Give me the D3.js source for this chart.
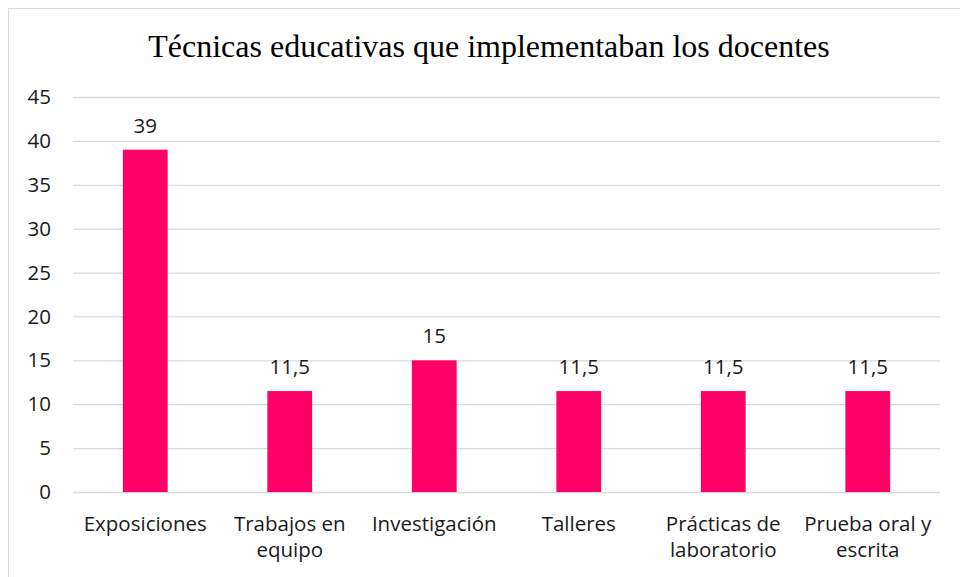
<!DOCTYPE html>
<html>
<head>
<meta charset="utf-8">
<style>
  body { margin: 0; background: #fff; }
  svg { display: block; }
  .title { font-family: "Liberation Serif", "Times New Roman", serif; font-size: 32px; fill: #000; }
  .tick text, .cat, .val { font-family: "Open Sans", "Noto Sans", sans-serif; font-size: 20.5px; fill: #1a1a1a; }
</style>
</head>
<body>
<script src="https://d3js.org/d3.v7.min.js"></script>
<script>

// data
var categories = ["Exposiciones", "Trabajos en equipo", "Investigación", "Talleres", "Prácticas de laboratorio", "Prueba oral y escrita"];
var catLines = [["Exposiciones"], ["Trabajos en", "equipo"], ["Investigación"], ["Talleres"], ["Prácticas de", "laboratorio"], ["Prueba oral y", "escrita"]];
var values = [39, 11.5, 15, 11.5, 11.5, 11.5];
var yTicks = [0, 5, 10, 15, 20, 25, 30, 35, 40, 45];

var width = 960, height = 577;
var plot = {left: 73, right: 940, top: 97, bottom: 492};

var svg = d3.select("body").append("svg")
    .attr("width", width)
    .attr("height", height);

// chart frame
svg.append("rect")
    .attr("x", 8.5).attr("y", 8.5)
    .attr("width", 970).attr("height", 600)
    .attr("fill", "none")
    .attr("stroke", "#d9d9d9");

svg.append("text")
    .attr("class", "title")
    .attr("x", 489).attr("y", 57)
    .attr("text-anchor", "middle")
    .text("Técnicas educativas que implementaban los docentes");

var x = d3.scaleBand()
    .domain(categories)
    .range([plot.left, plot.right])
    .paddingInner(0.69)
    .paddingOuter(0.345);

var y = d3.scaleLinear()
    .domain([0, 45])
    .range([plot.bottom, plot.top]);

// gridlines + y labels
var yAxis = svg.append("g")
    .attr("transform", "translate(" + plot.left + ",0)")
    .call(d3.axisLeft(y).tickValues(yTicks).tickSize(-(plot.right - plot.left)).tickPadding(22));
yAxis.select(".domain").remove();
yAxis.selectAll(".tick line").attr("stroke", "#d9d9d9").attr("stroke-width", 1.3);
yAxis.selectAll(".tick text").attr("text-anchor", "end");

// bars
svg.selectAll(".bar")
    .data(values)
    .enter()
    .append("rect")
    .attr("class", "bar")
    .attr("x", function(d, i) { return x(categories[i]); })
    .attr("y", function(d) { return y(d); })
    .attr("width", x.bandwidth())
    .attr("height", function(d) { return y(0) - y(d); })
    .attr("fill", "#ff0066");

// value labels
svg.selectAll(".val")
    .data(values)
    .enter()
    .append("text")
    .attr("class", "val")
    .attr("x", function(d, i) { return x(categories[i]) + x.bandwidth() / 2; })
    .attr("y", function(d) { return y(d) - 17; })
    .attr("text-anchor", "middle")
    .text(function(d) { return String(d).replace(".", ","); });

// category labels
var cats = svg.selectAll(".cat")
    .data(catLines)
    .enter()
    .append("text")
    .attr("class", "cat")
    .attr("text-anchor", "middle")
    .attr("x", function(d, i) { return x(categories[i]) + x.bandwidth() / 2; })
    .attr("y", 531);

cats.selectAll("tspan")
    .data(function(d) { return d; })
    .enter()
    .append("tspan")
    .attr("x", function() { return d3.select(this.parentNode).attr("x"); })
    .attr("dy", function(d, i) { return i == 0 ? 0 : 26; })
    .text(function(d) { return d; });

</script>
</body>
</html>
